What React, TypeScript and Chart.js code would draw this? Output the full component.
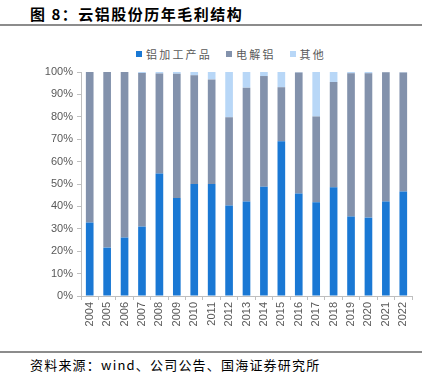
import React, { useEffect, useRef } from "react";
import { Chart, registerables } from "chart.js";

Chart.register(...registerables);

const years = ["2004","2005","2006","2007","2008","2009","2010","2011","2012","2013","2014","2015","2016","2017","2018","2019","2020","2021","2022"];
const processed = [32.8, 21.6, 26.1, 31.0, 54.7, 43.7, 50.0, 50.0, 40.4, 42.2, 48.8, 69.1, 45.8, 41.8, 48.5, 35.5, 35.0, 42.2, 46.7];
const electrolytic = [67.2, 78.4, 73.9, 68.5, 44.6, 55.5, 48.5, 46.7, 39.4, 50.8, 49.4, 24.1, 54.0, 38.3, 47.0, 63.9, 64.4, 57.7, 53.1];
const others = [0.0, 0.0, 0.0, 0.5, 0.7, 0.8, 1.5, 3.3, 20.2, 7.0, 1.8, 6.8, 0.2, 19.9, 4.5, 0.6, 0.6, 0.1, 0.2];
const seriesNames = ["铝加工产品", "电解铝", "其他"];
const colors = ["#1a78d4", "#8392ac", "#b8d7f7"];
const yTicks = [0, 10, 20, 30, 40, 50, 60, 70, 80, 90, 100];

const FONT = "Arial, 'Liberation Sans', sans-serif";
const CJK = "'Noto Sans CJK SC', sans-serif";

export default function App() {
  const ref = useRef<HTMLCanvasElement | null>(null);
  useEffect(() => {
    if (!ref.current) return;
    const chart = new Chart(ref.current, {
      type: "bar",
      data: {
        labels: years,
        datasets: [processed, electrolytic, others].map((d, i) => ({
          label: seriesNames[i],
          data: d,
          backgroundColor: colors[i],
          borderWidth: 0,
          barPercentage: 0.88,
          categoryPercentage: 0.5,
        })),
      },
      options: {
        animation: false,
        responsive: false,
        maintainAspectRatio: false,
        layout: { padding: { top: 72, right: 19, left: 0, bottom: 0 } },
        plugins: { legend: { display: false }, tooltip: { enabled: false }, title: { display: false } },
        scales: {
          x: {
            stacked: true,
            grid: { display: true, drawOnChartArea: false, drawTicks: true, tickLength: 4, color: "#bfbfbf", offset: true },
            border: { display: true, color: "#bfbfbf" },
            ticks: { color: "#595959", font: { family: FONT, size: 11 }, minRotation: 90, maxRotation: 90, autoSkip: false, padding: 2 },
            afterFit: (s: any) => { s.height = 49; },
          },
          y: {
            stacked: true,
            min: 0,
            max: 100,
            afterBuildTicks: (s: any) => { s.ticks = yTicks.map((v) => ({ value: v })); },
            grid: { display: true, drawOnChartArea: false, drawTicks: true, tickLength: 4, color: "#bfbfbf" },
            border: { display: true, color: "#bfbfbf" },
            ticks: { color: "#595959", font: { family: FONT, size: 11 }, padding: 4, callback: (v: any) => v + "%" },
            afterFit: (s: any) => { s.width = 81; },
          },
        },
      },
    });
    return () => chart.destroy();
  }, []);

  const legendItem = (i: number) => (
    <span key={i} style={{ display: "inline-flex", alignItems: "center", marginRight: i < 2 ? 14 : 0 }}>
      <span style={{ display: "inline-block", width: 6, height: 6, background: colors[i], marginRight: 4 }} />
      <span style={{ letterSpacing: 2.2 }}>{seriesNames[i]}</span>
    </span>
  );

  return (
    <div style={{ position: "fixed", left: 0, top: 0, width: 431, height: 375, background: "#fff", overflow: "hidden" }}>
      <div style={{ position: "absolute", left: 30, top: 3, fontFamily: CJK, fontWeight: 700, fontSize: 15, color: "#000", letterSpacing: 1.5, whiteSpace: "nowrap" }}>
        图 8：云铝股份历年毛利结构
      </div>
      <div style={{ position: "absolute", left: 0, top: 24, width: 422, height: 2, background: "#8c8c8c" }} />
      <div style={{ position: "absolute", left: 136, top: 46, fontFamily: CJK, fontSize: 11, color: "#595959", whiteSpace: "nowrap", display: "flex", alignItems: "center", height: 16 }}>
        {[0, 1, 2].map(legendItem)}
      </div>
      <canvas ref={ref} width={431} height={345} style={{ position: "absolute", left: 0, top: 0, width: 431, height: 345 }} />
      <div style={{ position: "absolute", left: 0, top: 351, width: 422, height: 2, background: "#8c8c8c" }} />
      <div style={{ position: "absolute", left: 30, top: 356, fontFamily: CJK, fontSize: 13, color: "#000", whiteSpace: "nowrap", lineHeight: "18px", letterSpacing: 1.2 }}>
        资料来源：wind、公司公告、国海证券研究所
      </div>
    </div>
  );
}
